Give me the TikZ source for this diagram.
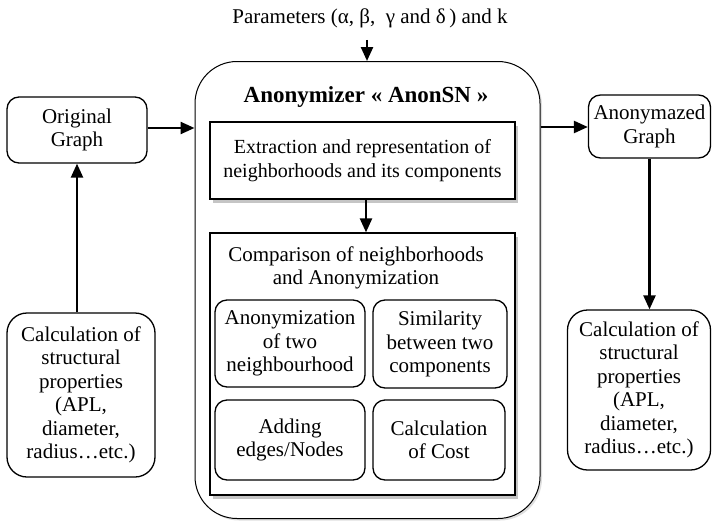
\documentclass[tikz,border=0pt]{standalone}
\usepackage{fontspec}
\setmainfont{Liberation Serif}
\usetikzlibrary{arrows.meta,shadows}
\begin{document}
\begin{tikzpicture}[x=1pt,y=-1pt,
  every node/.style={font=\fontsize{21}{23.5}\selectfont, align=center, inner sep=2pt},
  rbox/.style={draw, line width=1.3pt, rounded corners=12pt},
  sbox/.style={draw, line width=1.3pt, fill=white,
    drop shadow={shadow xshift=3pt, shadow yshift=-4pt, fill=black!45}},
  flow/.style={line width=2.4pt, -{Triangle[length=14pt,width=12pt]}}
]
\useasboundingbox (0,0) rectangle (712,525);

% parameters label
\node (params) at (370,18) {Parameters (α, β,\ \ γ and δ\,) and k};

% main anonymizer container
\node[draw, line width=1pt, rounded corners=42pt, minimum width=345pt, minimum height=457pt,
  drop shadow={shadow xshift=2pt, shadow yshift=-2pt, fill=black!25}, fill=white] (anon) at (367.5,290) {};
\node[font=\fontsize{23}{26}\selectfont\bfseries] (title) at (366,97) {Anonymizer « AnonSN »};

\node[sbox, minimum width=305pt, minimum height=77pt, font=\fontsize{20}{23.5}\selectfont] (ext) at (362.5,160.5)
  {Extraction and representation of\\neighborhoods and its components};

\node[sbox, minimum width=305pt, minimum height=262pt] (cmp) at (362.5,364) {};
\node (cmptxt) at (356,268) {Comparison of neighborhoods\\and Anonymization};

\node[rbox, minimum width=150pt, minimum height=87pt] (anon2) at (290,343.5)
  {Anonymization\\of two\\neighbourhood};
\node[rbox, minimum width=134pt, minimum height=88pt] (sim) at (440,344)
  {Similarity\\between two\\components};
\node[rbox, minimum width=150pt, minimum height=80pt] (add) at (290,440)
  {Adding\\edges/Nodes};
\node[rbox, minimum width=132pt, minimum height=80pt] (cost) at (439,440)
  {Calculation\\of Cost};

% outer inputs and outputs
\node[rbox, minimum width=140pt, minimum height=66pt] (orig) at (77,130) {Original\\Graph};
\node[rbox, rounded corners=20pt, minimum width=148pt, minimum height=164pt] (calcL) at (81,395)
  {Calculation of\\structural\\properties\\(APL,\\diameter,\\radius…etc.)};
\node[rbox, minimum width=122pt, minimum height=63pt] (anz) at (649.5,126.5) {Anonymazed\\Graph};
\node[rbox, rounded corners=20pt, minimum width=143pt, minimum height=160pt] (calcR) at (639,390)
  {Calculation of\\structural\\properties\\(APL,\\diameter,\\radius…etc.)};

% connectors
\draw[flow] ([xshift=-3pt,yshift=-10pt]params.south) -- ([xshift=-3pt]params.south |- anon.north);
\draw[flow] (ext.south -| title) -- (cmp.north -| title);
\draw[flow] (orig.east |- 0,128) -- (anon.west |- 0,128);
\draw[flow] (anon.east |- 0,127) -- (anz.west |- 0,127);
\draw[flow] (calcL.north -| orig.south) -- (orig.south);
\draw[flow] (anz.south) -- (anz.south |- calcR.north);
\end{tikzpicture}
\end{document}
